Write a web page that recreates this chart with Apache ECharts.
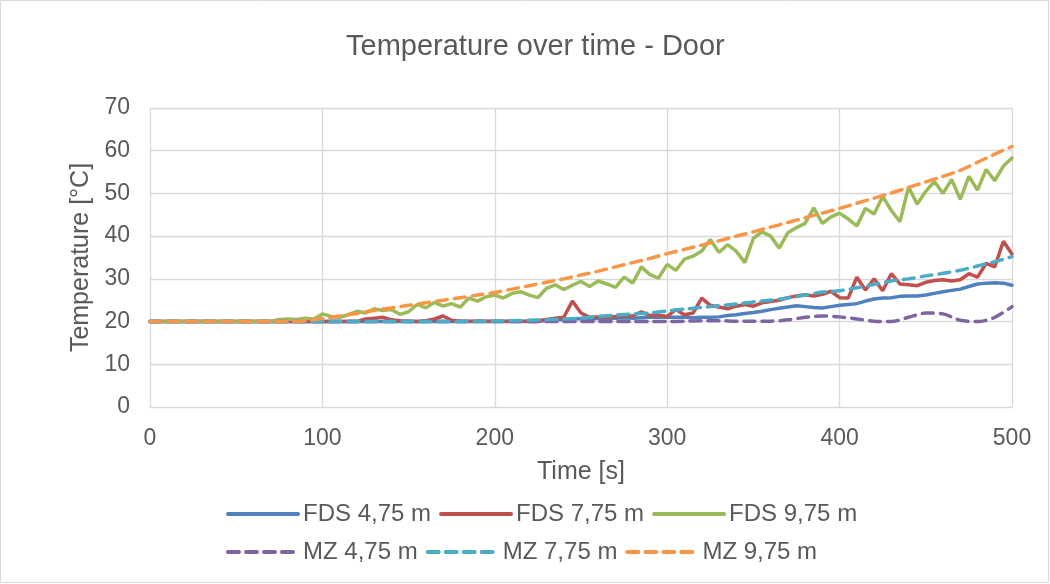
<!DOCTYPE html>
<html>
<head>
<meta charset="utf-8">
<script src="https://cdn.jsdelivr.net/npm/echarts@6/dist/echarts.min.js"></script>
<style>
  html, body { margin: 0; padding: 0; background: #fff; }
  #main { width: 1050px; height: 584px; }
</style>
</head>
<body>
<div id="main"></div>
<script>
// time steps (s) for the FDS curves
const timeFds = [0, 5, 10, 15, 20, 25, 30, 35, 40, 45, 50, 55, 60, 65, 70, 75, 80, 85, 90, 95,
  100, 105, 110, 115, 120, 125, 130, 135, 140, 145, 150, 155, 160, 165, 170, 175, 180, 185, 190, 195,
  200, 205, 210, 215, 220, 225, 230, 235, 240, 245, 250, 255, 260, 265, 270, 275, 280, 285, 290, 295,
  300, 305, 310, 315, 320, 325, 330, 335, 340, 345, 350, 355, 360, 365, 370, 375, 380, 385, 390, 395,
  400, 405, 410, 415, 420, 425, 430, 435, 440, 445, 450, 455, 460, 465, 470, 475, 480, 485, 490, 495, 500]

// time steps (s) for the MZ curves
const timeMz = [0, 10, 20, 30, 40, 50, 60, 70, 80, 90, 100, 110, 120, 130, 140, 150, 160, 170, 180, 190,
  200, 210, 220, 230, 240, 250, 260, 270, 280, 290, 300, 310, 320, 330, 340, 350, 360, 370, 380, 390,
  400, 410, 420, 430, 440, 450, 460, 470, 480, 490, 500]

const fds475 = [20, 20, 20, 20, 20, 20, 20, 20, 20, 20, 20, 20, 20, 20, 20, 20, 20, 20, 20, 20,
  20, 20, 20, 20, 20, 20, 20, 20, 20, 20, 20, 20, 20, 20, 20, 20, 20, 20, 20, 20,
  20, 20, 20, 20, 20, 20, 20.3, 20.4, 20.5, 20.6, 20.7, 20.6, 20.7, 20.8, 20.8, 20.9, 20.8, 20.9, 21.0, 21.0,
  21.0, 21.0, 21.0, 20.9, 21.0, 21.0, 21.1, 21.4, 21.6, 21.9, 22.1, 22.4, 22.8, 23.1, 23.4, 23.7, 23.5, 23.3, 23.2, 23.5,
  23.8, 24.0, 24.2, 24.8, 25.3, 25.5, 25.6, 25.9, 26.0, 26.0, 26.2, 26.6, 27.0, 27.3, 27.6, 28.2, 28.8, 29.0, 29.1, 29.0, 28.5]

const fds775 = [20, 20, 20, 20, 20, 20, 20, 20, 20, 20, 20, 20, 20, 20, 20, 20, 20, 20, 20, 20,
  20, 20, 20, 20, 20, 20.6, 20.8, 21.0, 20.4, 20.2, 20.1, 20.0, 20.2, 20.6, 21.3, 20.3, 20.1, 20.1, 20.1, 20.1,
  20.1, 20.1, 20.1, 20.1, 20.1, 20.2, 20.5, 20.8, 21.0, 24.8, 22.0, 21.0, 21.1, 21.0, 21.2, 21.4, 21.3, 22.3, 21.4, 21.5,
  21.2, 22.8, 21.6, 22.0, 25.5, 23.8, 23.4, 23.0, 23.6, 24.0, 23.6, 24.4, 24.7, 25.0, 25.6, 26.0, 26.3, 26.0, 26.4, 27.1,
  25.6, 25.5, 30.4, 27.4, 30.0, 27.2, 31.2, 28.8, 28.6, 28.4, 29.2, 29.6, 29.8, 29.5, 29.8, 31.2, 30.4, 33.6, 32.8, 38.8, 35.8]

const fds975 = [20, 20, 20, 20, 20, 20, 20, 20, 20, 20, 20, 20, 20, 20, 20, 20.5, 20.6, 20.5, 20.8, 20.6,
  21.8, 21.2, 21.0, 21.6, 22.4, 22.0, 23.0, 22.6, 22.8, 21.7, 22.3, 24.0, 23.2, 24.5, 23.6, 24.2, 23.4, 25.5, 24.8, 25.8,
  26.2, 25.5, 26.6, 27.0, 26.2, 25.6, 27.8, 28.6, 27.5, 28.5, 29.4, 28.2, 29.5, 28.8, 28.0, 30.4, 29.0, 32.8, 31.0, 30.2,
  33.4, 32.0, 34.6, 35.3, 36.5, 39.2, 36.2, 38.0, 36.5, 33.8, 39.5, 41.0, 40.0, 37.2, 40.8, 42.0, 43.0, 46.6, 43.0, 44.5,
  45.4, 44.0, 42.4, 46.5, 45.2, 49.3, 46.0, 43.4, 51.5, 47.5, 50.5, 52.8, 50.0, 53.3, 48.6, 54.0, 50.8, 55.6, 53.0, 56.4, 58.3]

const mz475 = [20, 20, 20, 20, 20, 20, 20, 20, 20, 20, 20, 20, 20, 20, 20, 20, 20, 20, 20, 20,
  20, 20, 20, 20, 20, 20, 20, 20, 20, 20, 20, 20.1, 20.2, 20.2, 20.1, 20.1, 20.1, 20.4, 21.0, 21.3,
  21.1, 20.6, 20.1, 20.0, 21.0, 22.0, 21.8, 20.3, 20.0, 21.0, 23.5]

const mz775 = [20, 20, 20, 20, 20, 20, 20, 20, 20, 20, 20, 20, 20, 20, 20, 20, 20, 20, 20, 20.05,
  20.1, 20.2, 20.3, 20.4, 20.6, 20.8, 21.2, 21.5, 21.8, 22.0, 22.5, 22.9, 23.3, 23.7, 24.1, 24.6, 25.0, 25.5, 26.2, 26.9,
  27.2, 27.9, 28.7, 29.5, 30.0, 30.7, 31.3, 32.0, 33.0, 34.0, 35.2]

const mz975 = [20, 20, 20, 20, 20, 20, 20, 20, 20, 20.2, 20.7, 21.3, 21.9, 22.6, 23.2, 23.8, 24.4, 25.0, 25.6, 26.2,
  26.8, 27.6, 28.4, 29.2, 30.0, 30.9, 31.8, 32.8, 33.8, 34.8, 35.9, 36.9, 37.9, 38.9, 40.0, 41.0, 42.1, 43.2, 44.3, 45.4,
  46.5, 47.7, 48.9, 50.1, 51.4, 52.7, 54.0, 55.4, 57.3, 59.2, 61.0]

const seriesNames = ['FDS 4,75 m', 'FDS 7,75 m', 'FDS 9,75 m', 'MZ 4,75 m', 'MZ 7,75 m', 'MZ 9,75 m']
const colors = ['#4F81BD', '#C0504D', '#9BBB59', '#8064A2', '#4BACC6', '#F79646']

const pair = (ts, vs) => ts.map((t, i) => [t, vs[i]])

const font = "'Liberation Sans', Arial, sans-serif"
const grey = '#595959'

const main = document.getElementById('main')
const myChart = echarts.init(main)

const lineSeries = (idx, data, dashed) => ({
  name: seriesNames[idx],
  type: 'line',
  data: data,
  symbol: 'none',
  smooth: dashed ? 0.3 : false,
  color: colors[idx],
  lineStyle: {
    width: 3.5,
    color: colors[idx],
    type: dashed ? [11, 7] : 'solid',
    cap: 'round'
  }
})

// two legend rows, items on a fixed column grid
const legendBase = {
  left: 221,
  itemWidth: 70,
  itemHeight: 14,
  itemGap: 8,
  itemStyle: { opacity: 0 },
  lineStyle: { width: 4 },
  textStyle: { fontFamily: font, fontSize: 24, color: grey, width: 130 }
}

myChart.setOption({
  animation: false,
  title: {
    text: 'Temperature over time - Door',
    left: 341,
    top: 27,
    textStyle: { fontFamily: font, fontSize: 29, fontWeight: 'normal', color: grey }
  },
  graphic: [{
    type: 'rect',
    shape: { x: 0.5, y: 0.5, width: 1048, height: 582 },
    style: { fill: 'none', stroke: '#D9D9D9', lineWidth: 1 },
    silent: true
  }],
  legend: [
    Object.assign({}, legendBase, { top: 497, data: seriesNames.slice(0, 3) }),
    Object.assign({}, legendBase, { top: 535, data: seriesNames.slice(3) })
  ],
  grid: { left: 150, right: 38, top: 108, bottom: 177, containLabel: false },
  xAxis: {
    type: 'value',
    min: 0,
    max: 500,
    interval: 100,
    name: 'Time [s]',
    nameLocation: 'middle',
    nameGap: 53,
    nameTextStyle: { fontFamily: font, fontSize: 25, color: grey },
    axisLine: { show: true, lineStyle: { color: '#D9D9D9', width: 1 } },
    axisTick: { show: false },
    axisLabel: { fontFamily: font, fontSize: 23, color: grey, margin: 20 },
    splitLine: { show: true, lineStyle: { color: '#D9D9D9', width: 1.3 } }
  },
  yAxis: {
    type: 'value',
    min: 0,
    max: 70,
    interval: 10,
    name: 'Temperature [°C]',
    nameLocation: 'middle',
    nameGap: 54,
    nameTextStyle: { fontFamily: font, fontSize: 25, color: grey },
    axisLine: { show: false },
    axisTick: { show: false },
    axisLabel: { fontFamily: font, fontSize: 23, color: grey, margin: 20 },
    splitLine: { show: true, lineStyle: { color: '#D9D9D9', width: 1.3 } }
  },
  series: [
    lineSeries(0, pair(timeFds, fds475), false),
    lineSeries(1, pair(timeFds, fds775), false),
    lineSeries(2, pair(timeFds, fds975), false),
    lineSeries(3, pair(timeMz, mz475), true),
    lineSeries(4, pair(timeMz, mz775), true),
    lineSeries(5, pair(timeMz, mz975), true)
  ]
})
</script>
</body>
</html>
